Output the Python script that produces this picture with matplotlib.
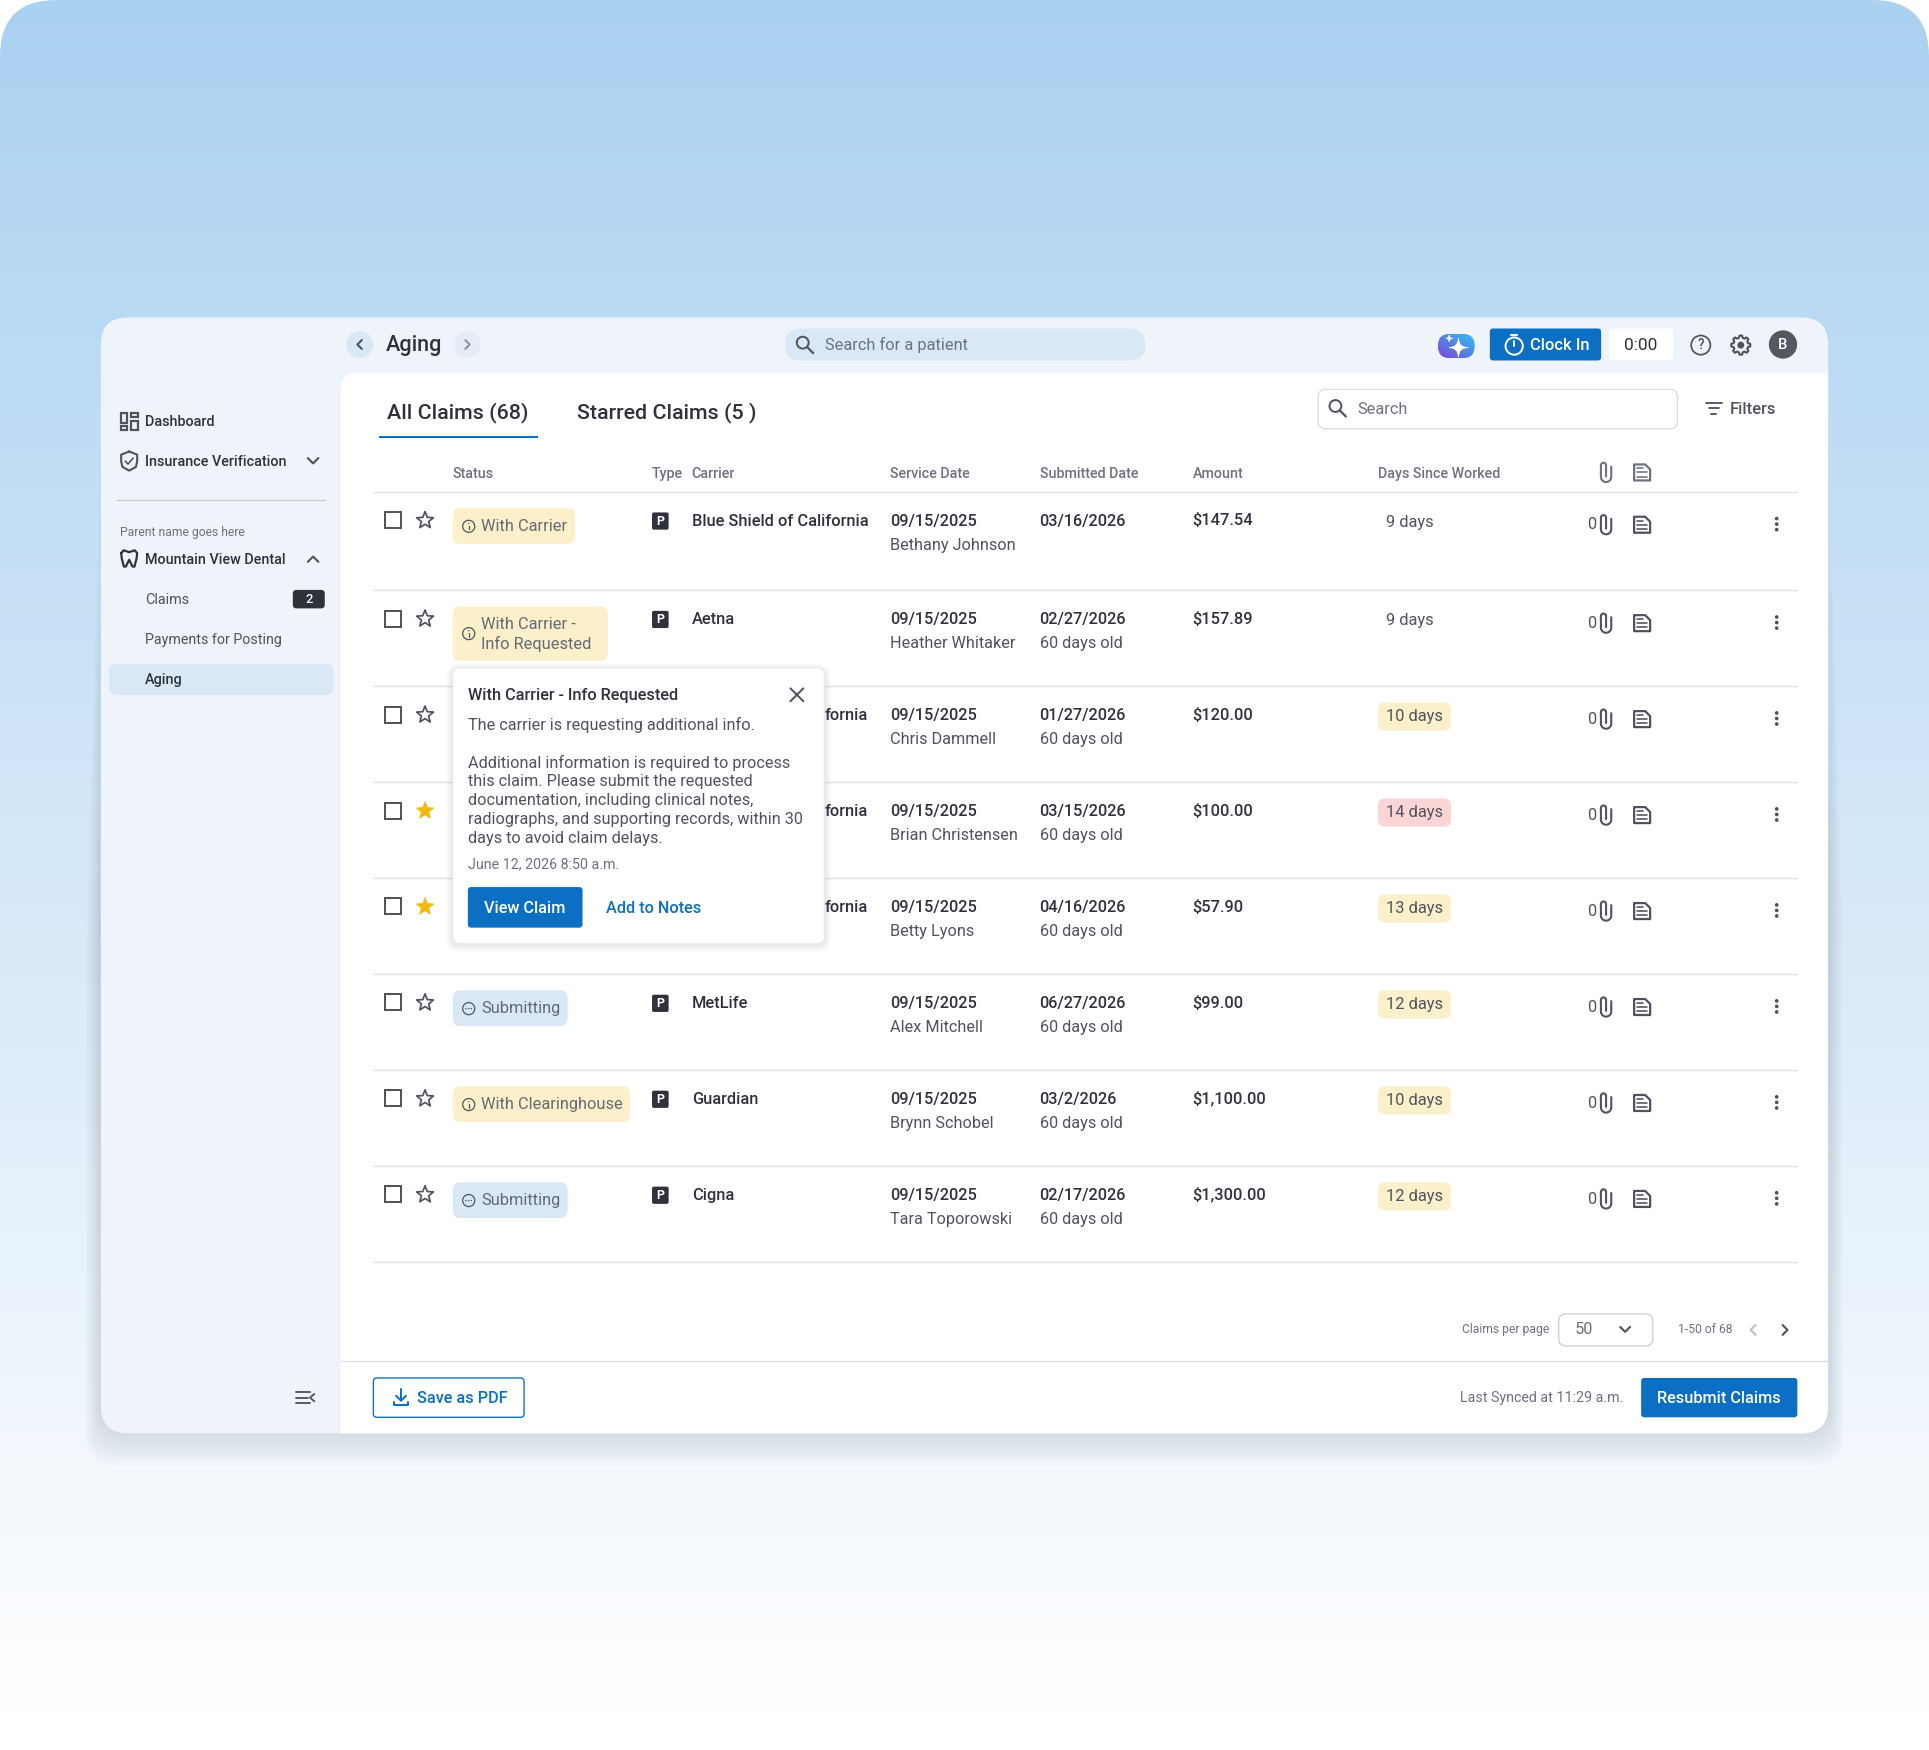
import numpy as np
import matplotlib
matplotlib.use("Agg")
import matplotlib.pyplot as plt
from matplotlib.patches import FancyBboxPatch, Circle, Rectangle, PathPatch, Polygon
from matplotlib.path import Path

plt.rcParams["font.family"] = ["Roboto", "DejaVu Sans"]

# table content
patients = ["Bethany Johnson", "Heather Whitaker", "Chris Dammell", "Brian Christensen",
            "Betty Lyons", "Alex Mitchell", "Brynn Schobel", "Tara Toporowski"]
# rows 3-5 are mostly hidden by the popup, only the end of the name shows
carriers = ["Blue Shield of California", "Aetna", "fornia", "fornia", "fornia", "MetLife",
            "Guardian", "Cigna"]
submitted = ["03/16/2026", "02/27/2026", "01/27/2026", "03/15/2026",
             "04/16/2026", "06/27/2026", "03/2/2026", "02/17/2026"]
ages = ["", "60 days old", "60 days old", "60 days old",
        "60 days old", "60 days old", "60 days old", "60 days old"]
amounts = ["$147.54", "$157.89", "$120.00", "$100.00", "$57.90", "$99.00", "$1,100.00", "$1,300.00"]
days = [9, 9, 10, 14, 13, 12, 10, 12]
starred = [False, False, False, True, True, False, False, False]
statuses = ["With Carrier", "With Carrier -\nInfo Requested", "", "", "",
            "Submitting", "With Clearinghouse", "Submitting"]
popup_lines = ["Additional information is required to process",
               "this claim. Please submit the requested",
               "documentation, including clinical notes,",
               "radiographs, and supporting records, within 30",
               "days to avoid claim delays."]
headers = ["Status", "Type", "Carrier", "Service Date", "Submitted Date", "Amount", "Days Since Worked"]
header_x = [368, 530, 562, 723.7, 845.3, 969.7, 1120.3]

BLUE = "#0B6FC4"
DARK = "#2F323C"
INK = "#50535E"
GREY = "#6E7180"
STATUS = "#666A76"
LINE = "#E0E1E8"
YELLOW = "#FBF0C9"
PALE = "#D9E8F5"
CARD = "#EFF4FB"

W, H = 1568, 1422.4
S = 1929 / W


def px(v):
    # size in picture pixels to points
    return v * S * 72 / 100


fig = plt.figure(figsize=(19.29, 17.5), dpi=100, facecolor="white")
ax = fig.add_axes([0, 0, 1, 1])


def box(x0, y0, x1, y1, r=3, fc="white", ec="none", lw=1.0, z=2, alpha=None):
    p = FancyBboxPatch((x0, y0), x1 - x0, y1 - y0, boxstyle=f"round,pad=0,rounding_size={r}",
                       fc=fc, ec=ec, lw=px(lw), zorder=z, alpha=alpha)
    ax.add_patch(p)
    return p


def txt(x, y, s, size=13.3, color=INK, weight="normal", ha="left", z=5, **kw):
    return ax.text(x, y + 0.6, s, fontsize=px(size), color=color, fontweight=weight,
                   ha=ha, va="center", zorder=z, **kw)


def line(xs, ys, color=INK, lw=1.5, z=5):
    ax.plot(xs, ys, color=color, lw=px(lw), zorder=z, solid_capstyle="round", solid_joinstyle="round")


def arc(cx, cy, r, a0, a1, n=24):
    t = np.radians(np.linspace(a0, a1, n))
    return cx + r * np.cos(t), cy + r * np.sin(t)


def ring(cx, cy, r, color=INK, lw=1.4, fc="none", z=5):
    ax.add_patch(Circle((cx, cy), r, fc=fc, ec=color, lw=px(lw), zorder=z))


def chevron(cx, cy, d, color=INK, s=4, lw=1.7, z=6):
    if d == "down":
        line([cx - s, cx, cx + s], [cy - s / 2, cy + s / 2, cy - s / 2], color, lw, z)
    elif d == "up":
        line([cx - s, cx, cx + s], [cy + s / 2, cy - s / 2, cy + s / 2], color, lw, z)
    elif d == "left":
        line([cx + s / 2, cx - s / 2, cx + s / 2], [cy - s, cy, cy + s], color, lw, z)
    else:
        line([cx - s / 2, cx + s / 2, cx - s / 2], [cy - s, cy, cy + s], color, lw, z)


def magnifier(cx, cy, color=INK):
    ring(cx - 1.5, cy - 1.5, 4.8, color, 1.6)
    line([cx + 2, cx + 7], [cy + 2, cy + 7], color, 1.8)


def star(cx, cy, filled):
    a = np.radians(np.arange(10) * 36 - 90)
    r = np.where(np.arange(10) % 2 == 0, 7.2, 3.1)
    pts = np.c_[cx + r * np.cos(a), cy + r * np.sin(a)]
    if filled:
        ax.add_patch(Polygon(pts, fc="#F2B90F", ec="#F2B90F", lw=px(0.8), joinstyle="round", zorder=4))
    else:
        ax.add_patch(Polygon(pts, fc="none", ec=INK, lw=px(1.4), joinstyle="round", zorder=4))


def paperclip(cx, cy, color=INK):
    x1, y1 = arc(cx, cy + 3.6, 4.2, 0, 180)
    x2, y2 = arc(cx - 2.1, cy - 5.7, 2.1, 180, 360)
    xs = np.r_[cx + 4.2, x1, x2, cx]
    ys = np.r_[cy - 4.8, y1, y2, cy + 3.2]
    line(xs, ys, color, 1.7)


def doc(cx, cy, color=INK):
    pts = [(cx - 6.5, cy - 6.5), (cx + 2.5, cy - 6.5), (cx + 6.5, cy - 2.5), (cx + 6.5, cy + 6.5), (cx - 6.5, cy + 6.5)]
    ax.add_patch(Polygon(pts, fc="none", ec=color, lw=px(1.8), joinstyle="round", zorder=5))
    for dy, right in [(-3.3, 1), (0, 4), (3.4, 4)]:
        line([cx - 4, cx + right], [cy + dy, cy + dy], color, 1.3)


def info(cx, cy, color=INK):
    ring(cx, cy, 4.9, color, 1.0)
    line([cx, cx], [cy - 0.4, cy + 2.4], color, 1.0)
    ax.add_patch(Circle((cx, cy - 2.3), 0.55, fc=color, ec="none", zorder=6))


def dots(cx, cy, color=INK):
    ring(cx, cy, 4.9, color, 1.0)
    for dx in (-2.2, 0, 2.2):
        ax.add_patch(Circle((cx + dx, cy), 0.6, fc=color, ec="none", zorder=6))


# page background with rounded top corners
bg = np.linspace(0, 1, 256)[:, None]
grad = np.dstack([171 + 84 * bg, 209 + 46 * bg, 241 + 14 * bg]).clip(0, 255).astype(np.uint8)
im = ax.imshow(grad, extent=[0, W, 1400, 0], aspect="auto", zorder=0)
clip_bg = FancyBboxPatch((0, 0), W, 1500, boxstyle="round,pad=0,rounding_size=46", fc="none", ec="none")
ax.add_patch(clip_bg)
im.set_clip_path(clip_bg)

# card shadow, mostly below the card, fading out up the sides
for i in range(16):
    g = i * 1.0
    box(82 - g * 0.8, 290 + g * 30, 1486 + g * 0.8, 1158 + g * 2.2, r=24, fc="#3A4A66", z=1, alpha=0.012)

card = box(82, 258, 1486, 1165, r=22, fc=CARD, z=2)
white = box(277, 303, 1530, 1200, r=14, fc="white", z=2.1)
white.set_clip_path(card)
sq = Rectangle((277, 800), 60, 400, fc="white", ec="none", zorder=2.1)
ax.add_patch(sq)
sq.set_clip_path(card)

# top bar
ax.add_patch(Circle((292.3, 280), 11, fc=PALE, ec="none", zorder=3))
chevron(292.3, 280, "left", INK, 3.6)
txt(314, 280.3, "Aging", 17.6, DARK, "medium")
ax.add_patch(Circle((380, 280), 11, fc="#E4EDF7", ec="none", zorder=3))
chevron(380, 280, "right", "#8E919C", 3.6)
box(638, 267, 931, 293, r=13, fc=PALE, z=3)
magnifier(654, 280)
txt(670.5, 280, "Search for a patient", 13.3, GREY)

pill = box(1169, 271.5, 1198.5, 291, r=9.5, fc="#4C7FE0", z=3)
xg = np.linspace(0, 1, 64)[None, :]
yg = np.linspace(0, 1, 32)[:, None]
mix = ((xg + (1 - yg)) / 2)[:, :, None]
sp = (1 - mix) * np.array([125, 70, 215]) + mix * np.array([45, 195, 245])
sim = ax.imshow(sp.astype(np.uint8), extent=[1169, 1198.5, 291, 271.5], aspect="auto", zorder=3.1)
sim.set_clip_path(pill)
for cx, cy, r in [(1185.5, 282.5, 7.6), (1178, 275, 2.6)]:
    verts = [(cx, cy - r), (cx, cy), (cx + r, cy), (cx, cy), (cx, cy + r), (cx, cy), (cx - r, cy), (cx, cy), (cx, cy - r)]
    codes = [Path.MOVETO] + [Path.CURVE3] * 8
    ax.add_patch(PathPatch(Path(verts, codes), fc="white", ec="white", lw=px(0.8), zorder=4))

box(1211, 267, 1301.5, 293, r=2.5, fc=BLUE, z=3)
ring(1230.8, 281.3, 7, "white", 1.6)
line([1228.3, 1233.3], [272.4, 272.4], "white", 1.7)
line([1230.8, 1230.8], [277, 281], "white", 1.6)
txt(1243.5, 280.3, "Clock In", 13.4, "white", "medium")
box(1308, 267, 1360, 293, r=2.5, fc="white", z=3)
txt(1333.5, 280, "0:00", 14, DARK, ha="center")
ring(1382.5, 280.5, 7.8, INK, 1.4)
txt(1382.5, 280, "?", 11, INK, "medium", ha="center")
ang = np.radians(np.arange(0, 360, 3.0))
teeth = 6.9 + 0.9 * np.clip(3 * np.cos(8 * ang), -1, 1)
ax.add_patch(Polygon(np.c_[1415 + teeth * np.cos(ang), 280.5 + teeth * np.sin(ang)], fc="none", ec=INK,
                     lw=px(1.6), joinstyle="round", zorder=5))
ring(1415, 280.5, 2.1, INK, 1.4, fc=INK)
ax.add_patch(Circle((1449.3, 280), 11.5, fc="#555863", ec="none", zorder=4))
txt(1449.3, 280, "B", 12, "white", "medium", ha="center")

# tabs and table toolbar
txt(314.5, 335, "All Claims (68)", 17.4, DARK, "medium")
ax.add_patch(Rectangle((308, 354), 129, 2.2, fc=BLUE, ec="none", zorder=4))
txt(469, 335, "Starred Claims (5 )", 17.4, DARK, "medium")
box(1071.5, 316.5, 1363.5, 348.5, r=6, fc="white", ec="#DDDEE6", lw=1.1, z=3)
magnifier(1087, 331.5)
txt(1103.5, 332, "Search", 13.3, GREY)
for w, yy in [(6.5, 327.5), (4.2, 332), (1.8, 336.5)]:
    line([1393 - w, 1393 + w], [yy, yy], INK, 1.5)
txt(1406, 332, "Filters", 13.4, INK, "medium")

# sidebar
for (x0, y0, x1, y1) in [(98.2, 335.8, 103.5, 344), (106.5, 335.8, 111.8, 339.3), (98.2, 346.3, 103.5, 349.3), (106.5, 341.8, 111.8, 349.3)]:
    ax.add_patch(Rectangle((x0, y0), x1 - x0, y1 - y0, fc="none", ec=INK, lw=px(1.8), zorder=5))
txt(118, 342, "Dashboard", 11.7, DARK, "medium")
shield = [(105, 367), (111.5, 369.5), (111.5, 375), (110.5, 379.5), (105, 382.5), (99.5, 379.5), (98.5, 375), (98.5, 369.5), (105, 367)]
line([p[0] for p in shield], [p[1] for p in shield], INK, 1.7)
line([101.8, 104, 108.3], [374.8, 377.2, 372.3], INK, 1.3)
txt(118, 374.8, "Insurance Verification", 11.7, DARK, "medium")
chevron(254.5, 374.5, "down", INK, 4.3)
line([95.5, 264], [406.5, 406.5], "#C6CAD4", 1)
txt(97.5, 432, "Parent name goes here", 9.9, GREY)
tooth = [(98.5, 449.5), (100.5, 447.3), (105, 448.8), (109.5, 447.3), (111.5, 449.5), (111, 454), (109.3, 460.5), (107.7, 460.5),
         (105, 455), (102.3, 460.5), (100.7, 460.5), (99, 454), (98.5, 449.5)]
line([p[0] for p in tooth], [p[1] for p in tooth], DARK, 1.8)
txt(118, 454.3, "Mountain View Dental", 11.7, DARK, "medium")
chevron(254.5, 454.5, "up", INK, 4.3)
txt(118, 486.8, "Claims", 11.7, INK)
box(238, 479.5, 264, 494.5, r=3, fc=DARK, z=3)
txt(251, 486.5, "2", 10.5, "white", "medium", ha="center")
txt(118, 519.3, "Payments for Posting", 11.6, INK)
box(88.5, 539.5, 271, 565, r=6, fc=PALE, z=3)
txt(118, 552, "Aging", 11.7, DARK, "medium")
line([241, 252], [1131.5, 1131.5], INK, 1.5)
line([241, 250], [1136, 1136], INK, 1.5)
line([241, 252], [1140.5, 1140.5], INK, 1.5)
line([255.5, 252, 255.5], [1133, 1136, 1139], INK, 1.5)

# table header
for label, hx in zip(headers, header_x):
    txt(hx, 384.3, label, 11.6, GREY, "medium")
paperclip(1305.5, 384, GREY)
doc(1334.8, 384, GREY)
line([303, 1461], [399.6, 399.6], LINE, 1.1, 3)

# table rows
row_top = [400, 480, 558, 636, 714, 792, 870, 948]
for i, top in enumerate(row_top):
    ty = top + 23
    sy = ty + 19.5
    line([303, 1461], [top + (80 if i == 0 else 78) - 0.5] * 2, LINE, 1.1, 3)
    ax.add_patch(Rectangle((312.8, ty - 6.7), 13, 13, fc="white", ec=INK, lw=px(1.6), zorder=4))
    star(345.5, ty, starred[i])
    st = statuses[i]
    if st:
        yellow = st.startswith("With")
        if "\n" in st:
            box(368, ty - 10, 494, ty + 34, r=6, fc=YELLOW, z=3)
            info(381, ty + 12)
            txt(391, ty + 4.3, st.split("\n")[0], 13.3, STATUS)
            txt(391, ty + 19.7, st.split("\n")[1], 13.3, STATUS)
        else:
            right = {"With Carrier": 467.5, "Submitting": 461.5, "With Clearinghouse": 512}[st]
            box(368, ty - 10, right, ty + 19, r=6, fc=YELLOW if yellow else PALE, z=3)
            (info if yellow else dots)(381, ty + 4.8)
            txt(391, ty + 4.3, st, 13.3, STATUS)
    if carriers[i] == "fornia":
        txt(705.3, ty, carriers[i], 13.3, DARK, "medium", ha="right")
    else:
        box(530, ty - 6.5, 543.5, ty + 7.5, r=1.5, fc=DARK, z=3)
        txt(536.8, ty + 0.2, "P", 10, "white", "bold", ha="center")
        txt(562.3, ty, carriers[i], 13.3, DARK, "medium")
    txt(723.3, ty, "09/15/2025", 13.2, DARK, "medium")
    name = txt(723.5, sy, patients[i], 13.2, INK)
    name.set_clip_path(Rectangle((700, sy - 12), 126.5, 24, transform=ax.transData))
    name.set_clip_on(True)
    txt(845, ty, submitted[i], 13.2, DARK, "medium")
    if ages[i]:
        txt(845.2, sy, ages[i], 13.2, INK)
    txt(969.5, ty - 0.3, amounts[i], 13.3, DARK, "medium")
    d = days[i]
    if d >= 10:
        box(1120, ty - 10, 1179.5, ty + 13, r=6, fc="#FAD5D5" if d == 14 else YELLOW, z=3)
    txt(1127, ty + 1, f"{d} days", 13.3, INK)
    txt(1289.7, ty + 3, "0", 13.3, INK)
    paperclip(1305.5, ty + 3.5)
    doc(1334.8, ty + 3.5)
    for dy in (-4.5, 0, 4.5):
        ax.add_patch(Circle((1444.2, ty + 3 + dy), 1.5, fc=INK, ec="none", zorder=5))

# status popup
for i in range(6):
    g = i * 1.1
    box(368 - g, 544 - g + 1, 670 + g, 767 + g + 1, r=6 + g, fc="#2A3550", z=6, alpha=0.018)
box(368, 543, 670, 767, r=6, fc="white", ec="#E8E9EE", lw=0.8, z=6.5)
txt(380.4, 564.4, "With Carrier - Info Requested", 13.25, DARK, "medium", z=7)
line([642.5, 653], [559.5, 570], INK, 1.6, 7)
line([653, 642.5], [559.5, 570], INK, 1.6, 7)
txt(380.4, 589, "The carrier is requesting additional info.", 13.2, INK, z=7)
for k, row in enumerate(popup_lines):
    txt(380.4, 619.5 + k * 15.4, row, 13.2, INK, z=7)
txt(380.4, 702, "June 12, 2026 8:50 a.m.", 11.6, GREY, z=7)
box(380.3, 721, 473.5, 754, r=2.5, fc=BLUE, z=7)
txt(426.7, 737.5, "View Claim", 13.2, "white", "medium", ha="center", z=8)
txt(492.5, 737.5, "Add to Notes", 13.2, BLUE, "medium", z=7)

# pager and footer
txt(1188.8, 1080.3, "Claims per page", 9.9, GREY)
box(1267, 1068, 1343.5, 1094, r=6, fc="white", ec="#C9CBD6", lw=1, z=3)
txt(1280, 1080.3, "50", 13.3, GREY)
chevron(1321, 1080.5, "down", INK, 4)
txt(1364, 1080.3, "1-50 of 68", 9.9, GREY)
chevron(1425, 1081, "left", "#BFC1CA", 4)
chevron(1451, 1081, "right", INK, 4)
line([277, 1486], [1106.6, 1106.6], "#DDDEE6", 1.1, 3)
box(303.5, 1120, 426, 1152, r=3, fc="white", ec=BLUE, lw=1.1, z=3)
line([326, 326], [1129, 1138], BLUE, 1.6)
line([322, 326, 330], [1134.5, 1138.5, 1134.5], BLUE, 1.6)
line([320, 320, 332, 332], [1139.5, 1142, 1142, 1139.5], BLUE, 1.6)
txt(339, 1136, "Save as PDF", 13.2, BLUE, "medium")
txt(1186.8, 1136, "Last Synced at 11:29 a.m.", 11.6, GREY)
box(1334, 1120, 1461, 1152, r=2.5, fc=BLUE, z=3)
txt(1397.5, 1136, "Resubmit Claims", 13.2, "white", "medium", ha="center")

ax.set_xlim(0, W)
ax.set_ylim(H, 0)
ax.axis("off")
fig.savefig("out.png", dpi=100, facecolor="white")
